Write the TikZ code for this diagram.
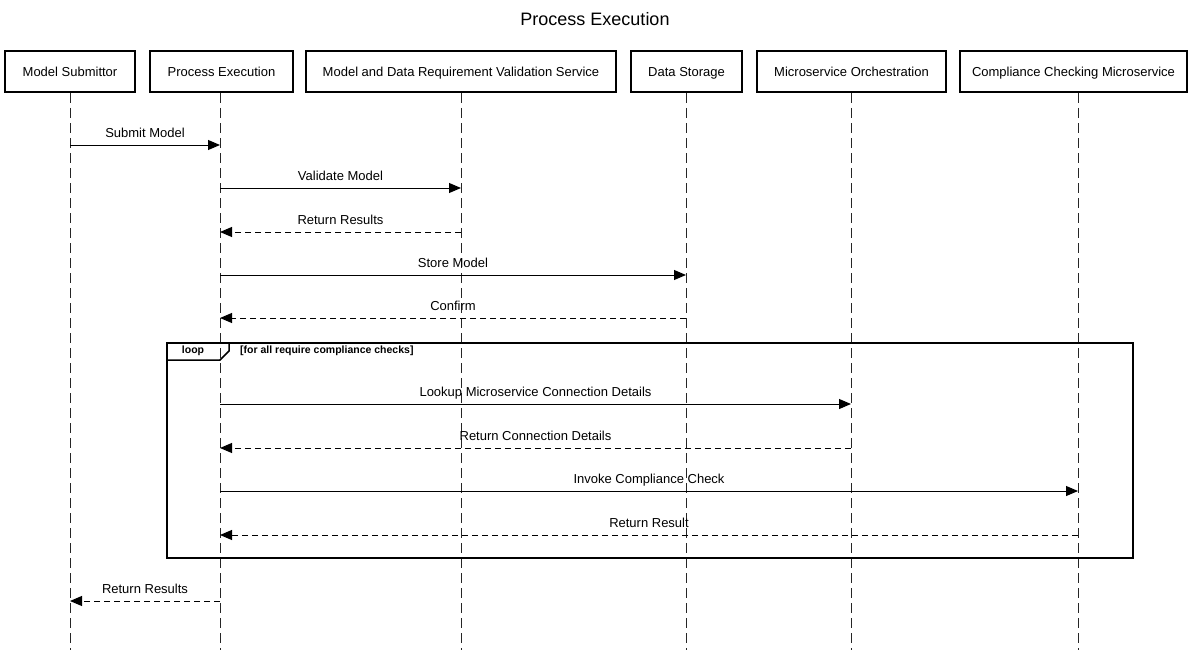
\documentclass[tikz,border=0pt]{standalone}
\usepackage{fontspec}
\setmainfont{Liberation Sans}
\usetikzlibrary{arrows.meta}
\begin{document}
\begin{tikzpicture}[x=1pt,y=-1pt,
  actor/.style={draw, line width=2pt, minimum height=41pt, inner sep=0pt,
    text height=9.5pt, text depth=0pt, font=\fontsize{13}{15}\selectfont},
  lifeline/.style={line width=1pt, dash pattern=on 10pt off 5pt, black!85},
  msg/.style={line width=1pt, -{Triangle[length=12pt,width=10pt]}},
  reply/.style={msg, dash pattern=on 6pt off 4pt},
  lbl/.style={font=\fontsize{13}{15}\selectfont, anchor=south, inner sep=4.5pt,
    text height=9.5pt, text depth=2.5pt},
  frame/.style={draw, line width=2pt},
  fraglbl/.style={font=\bfseries\fontsize{10.5}{12}\selectfont,
    text height=7.5pt, text depth=2pt}]
\useasboundingbox (0,0) rectangle (1190,650);

% title
\node[font=\fontsize{18}{20}\selectfont] (title) at (595,19) {Process Execution};

% participants
\node[actor, minimum width=130pt] (ms) at (70,71.5) {Model Submittor};
\node[actor, minimum width=143pt] (pe) at (221.5,71.5) {Process Execution};
\node[actor, minimum width=310pt] (vs) at (461,71.5) {Model and Data Requirement Validation Service};
\node[actor, minimum width=111pt] (ds) at (686.5,71.5) {Data Storage};
\node[actor, minimum width=189pt] (mo) at (851.5,71.5) {Microservice Orchestration};
\node[actor, minimum width=227pt] (cc) at (1073.5,71.5) {Compliance Checking Microservice};

% lifeline ends
\coordinate (msb) at (70,650);
\coordinate (peb) at (220,650);
\coordinate (vsb) at (461,650);
\coordinate (dsb) at (686,650);
\coordinate (mob) at (851,650);
\coordinate (ccb) at (1078,650);

% lifelines
\draw[lifeline] (ms.south) -- (msb);
\draw[lifeline] (pe.south -| peb) -- (peb);
\draw[lifeline] (vs.south) -- (vsb);
\draw[lifeline] (ds.south -| dsb) -- (dsb);
\draw[lifeline] (mo.south -| mob) -- (mob);
\draw[lifeline] (cc.south -| ccb) -- (ccb);

% message rows
\coordinate (r1) at (0,145);
\coordinate (r2) at (0,188);
\coordinate (r3) at (0,232);
\coordinate (r4) at (0,275);
\coordinate (r5) at (0,318);
\coordinate (r6) at (0,404);
\coordinate (r7) at (0,448);
\coordinate (r8) at (0,491);
\coordinate (r9) at (0,535);
\coordinate (r10) at (0,601);

% loop fragment
\node[frame, minimum width=966pt, minimum height=215pt, inner sep=0pt, anchor=north west]
  (loopfr) at (166,342) {};
\draw[line width=1.5pt] (166,360) -- (220,360) -- (229,351) -- (229,342);
\node[fraglbl] (looplbl) at (193,351) {loop};
\node[fraglbl, anchor=west, inner sep=0pt] (loopcond) at (240,351)
  {[for all require compliance checks]};

% messages
\draw[msg] (msb |- r1) -- node[lbl] {Submit Model} (peb |- r1);
\draw[msg] (peb |- r2) -- node[lbl] {Validate Model} (vsb |- r2);
\draw[reply] (vsb |- r3) -- node[lbl] {Return Results} (peb |- r3);
\draw[msg] (peb |- r4) -- node[lbl] {Store Model} (dsb |- r4);
\draw[reply] (dsb |- r5) -- node[lbl] {Confirm} (peb |- r5);
\draw[msg] (peb |- r6) -- node[lbl] {Lookup Microservice Connection Details} (mob |- r6);
\draw[reply] (mob |- r7) -- node[lbl] {Return Connection Details} (peb |- r7);
\draw[msg] (peb |- r8) -- node[lbl] {Invoke Compliance Check} (ccb |- r8);
\draw[reply] (ccb |- r9) -- node[lbl] {Return Result} (peb |- r9);
\draw[reply] (peb |- r10) -- node[lbl] {Return Results} (msb |- r10);
\end{tikzpicture}
\end{document}
